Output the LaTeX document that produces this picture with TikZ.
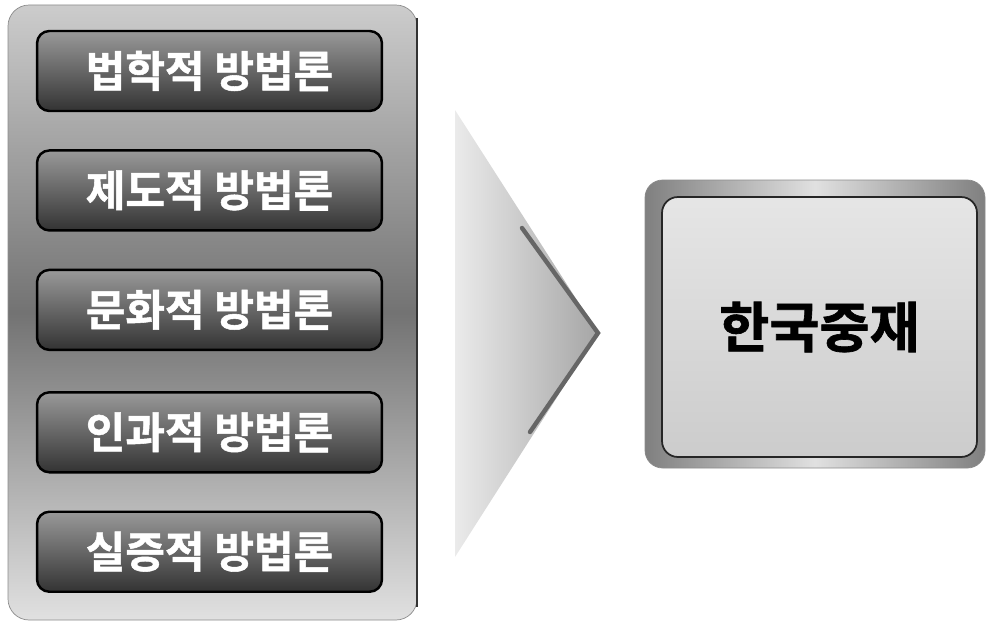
\documentclass[tikz,border=0pt]{standalone}
\usepackage{fontspec}
\usepackage{tikz}
\usetikzlibrary{positioning}
\newfontfamily\kr{Noto Sans CJK KR}[BoldFont={Noto Sans CJK KR Bold}, BoldFeatures={FakeBold=1.2}]

\tikzset{
  methodbox/.style={draw=black, line width=1.4pt, rounded corners=7pt,
    minimum width=6.9cm, minimum height=1.6cm, inner sep=0pt,
    top color=black!40, bottom color=black!80, text=white,
    font=\kr\bfseries\fontsize{24.5}{24.5}\selectfont},
  targetbox/.style={draw=black!85, line width=1pt, rounded corners=9pt,
    minimum width=6.3cm, minimum height=5.2cm, inner sep=0pt,
    top color=black!10, bottom color=black!20, text=black,
    font=\kr\bfseries\fontsize{31}{31}\selectfont}
}

\begin{document}
\begin{tikzpicture}[x=0.02cm, y=-0.02cm]
  \useasboundingbox (0,0) rectangle (989,625);

  %% panel
  \shade[top color=black!20, bottom color=black!12, middle color=black!55,
    draw=black!45, rounded corners=12pt] (8,5) rectangle (417,620);
  \draw[black!80, line width=1pt] (417,18) -- (417,607);

  %% methods
  \node[methodbox] (m1) at (209.5,71) {법학적 방법론};
  \node[methodbox, below=0.74cm of m1] (m2) {제도적 방법론};
  \node[methodbox, below=0.74cm of m2] (m3) {문화적 방법론};
  \node[methodbox, below=0.8cm of m3]  (m4) {인과적 방법론};
  \node[methodbox, below=0.74cm of m4] (m5) {실증적 방법론};

  %% chevron
  \shade[left color=black!8, right color=black!35]
    (455,110) -- (598,333) -- (455,557) -- cycle;
  \draw[black!60, line width=2.5pt, line cap=round]
    (522,228) -- (598,333) -- (530,432);

  %% result
  \shade[left color=black!50, right color=black!50, middle color=black!12,
    shading angle=90, draw=black!45, rounded corners=10pt]
    (645,180) rectangle (985,468);
  \node[targetbox] (target) at (819.5,327) {한국중재};

\end{tikzpicture}
\end{document}
